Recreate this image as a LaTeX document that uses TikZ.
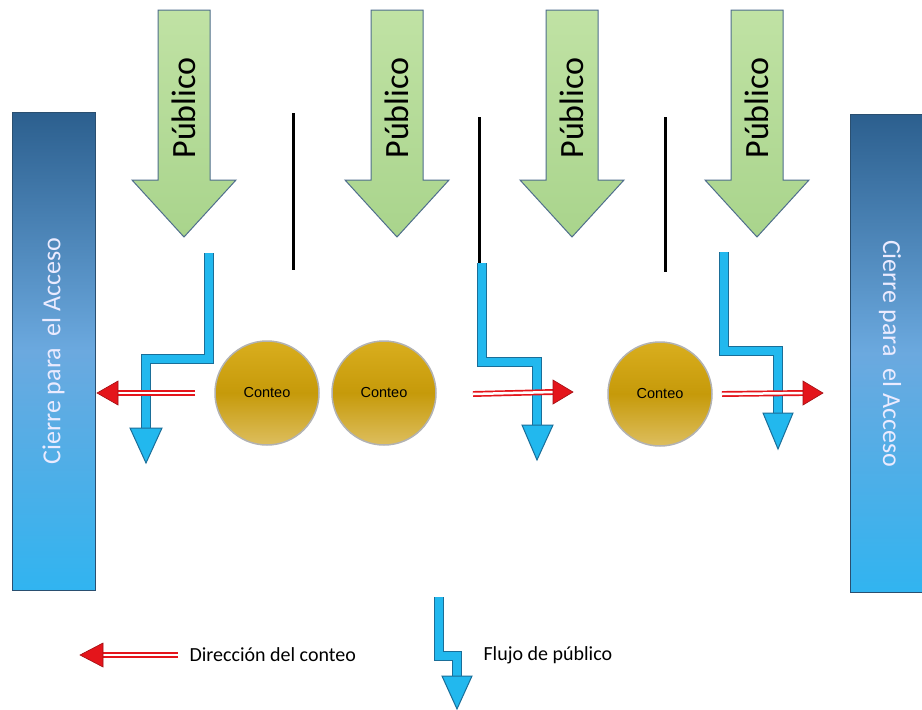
\documentclass[tikz,border=0pt]{standalone}
\usepackage{fontspec}
\setmainfont{Carlito}
\newfontfamily\arialfont{Liberation Sans}
\usepackage{tikz}
\usetikzlibrary{positioning}

\definecolor{barTop}{HTML}{2C5F8E}
\definecolor{barMid}{HTML}{6BA9DF}
\definecolor{barBot}{HTML}{31B4F0}
\definecolor{barEdge}{HTML}{2A4F70}
\definecolor{greenTop}{HTML}{C0E2A4}
\definecolor{greenBot}{HTML}{A9D48C}
\definecolor{greenEdge}{HTML}{4F6E8C}
\definecolor{goldTop}{HTML}{D9AE1E}
\definecolor{goldMid}{HTML}{C69A0A}
\definecolor{goldBot}{HTML}{DDBE5E}
\definecolor{flowBlue}{HTML}{22B8EE}
\definecolor{flowDark}{HTML}{1A6E98}
\definecolor{countRed}{HTML}{E4151B}

\begin{document}
\begin{tikzpicture}[x=1pt,y=-1pt]
	\tikzstyle{closure} = [rectangle, draw=barEdge, line width=1pt, minimum width=83pt, 
	minimum height=478pt, top color=barTop, bottom color=barBot, middle color=barMid]
	\tikzstyle{closuretext} = [text=white!92!blue, font=\fontsize{26}{30}\selectfont]
	\tikzstyle{public} = [draw=greenEdge, line width=1pt, top color=greenTop, bottom color=greenBot]
	\tikzstyle{publictext} = [font=\fontsize{34}{40}\selectfont]
	\tikzstyle{counter} = [circle, minimum size=104pt, draw=gray!60, line width=1.5pt, 
	top color=goldTop, bottom color=goldBot, middle color=goldMid, font=\arialfont\fontsize{14.5}{16}\selectfont]
	\tikzstyle{divider} = [line width=3pt]
	\tikzstyle{flow} = [draw=flowDark, double=flowBlue, line width=1.5pt, double distance=7.5pt]
	\tikzstyle{flowhead} = [fill=flowBlue, draw=flowDark, line width=1pt]
	\tikzstyle{countline} = [draw=countRed, double=white, line width=1.7pt, double distance=2.5pt]
	\tikzstyle{counthead} = [fill=countRed, draw=countRed!70!black, line width=0.6pt]
	\tikzstyle{legendtext} = [anchor=west, font=\fontsize{20}{24}\selectfont]
	\useasboundingbox [fill=white] (0,0) rectangle (922,710);
	% closing bars
	\node (barL) [closure] at (53.5,351) {};
	\node (barR) [closure] at (891.5,353.5) {};
	\node (closeL) [closuretext, rotate=90] at (barL) {Cierre para~ el Acceso};
	\node (closeR) [closuretext, rotate=-90] at (890,353.5) {Cierre para~ el Acceso};
	% public arrows
	\foreach \cx [count=\i] in {184,397,572,757} {
		\path [public] (\cx-26,10) -- (\cx+26,10) -- (\cx+26,180) -- (\cx+52,180) -- (\cx,237) 
		-- (\cx-52,180) -- (\cx-26,180) -- cycle;
		\node (public\i) [publictext, rotate=90] at (\cx,108) {Público};
	}
	% dividers
	\draw [divider] (293,113) -- (293,270);
	\draw [divider] (479,117) -- (479,265);
	\draw [divider] (665,117) -- (665,272);
	% flow of public
	\draw [flow] (209,253) |- (146,359) -- (146,429);
	\draw [flowhead] (130,428) -- (162,428) -- (146,463) -- cycle;
	\draw [flow] (482,263) |- (537,362) -- (537,426);
	\draw [flowhead] (522,425) -- (553,425) -- (537,460) -- cycle;
	\draw [flow] (724,252) |- (778,351) -- (778,414);
	\draw [flowhead] (763,413) -- (793,413) -- (778,449) -- cycle;
	% counters
	\node (countA) [counter] at (267,393) {Conteo};
	\node (countB) [counter] at (384,393) {Conteo};
	\node (countC) [counter] at (660,394) {Conteo};
	% counting direction
	\draw [countline] (195,393) -- (118,393);
	\draw [counthead] (118,381) -- (97,393) -- (118,405) -- cycle;
	\draw [countline] (473,394) -- (553,392);
	\draw [counthead] (553,380) -- (573,392) -- (553,404) -- cycle;
	\draw [countline] (722,394) -- (803,393);
	\draw [counthead] (803,381) -- (823,393) -- (803,405) -- cycle;
	% legend
	\draw [countline] (178,655) -- (103,655);
	\draw [counthead] (103,643) -- (80,655) -- (103,667) -- cycle;
	\node (legCount) [legendtext] at (186,655) {Dirección del conteo};
	\draw [flow] (439,597) |- (457,656) -- (457,677);
	\draw [flowhead] (442,676) -- (472,676) -- (457,709) -- cycle;
	\node (legFlow) [legendtext] at (480,655) {Flujo de público};
\end{tikzpicture}
\end{document}
